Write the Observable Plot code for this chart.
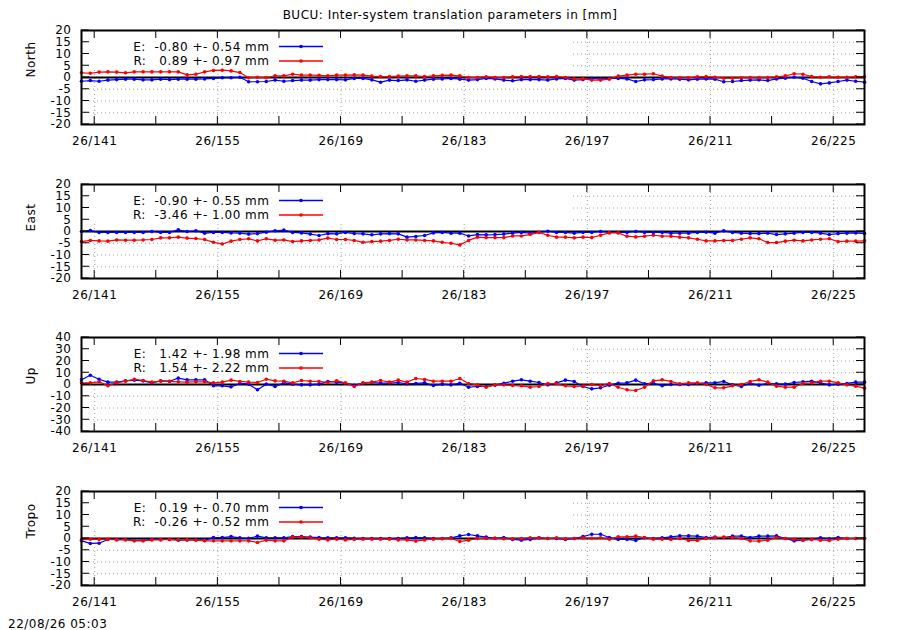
<!DOCTYPE html>
<html><head><meta charset="utf-8">
<script src="https://cdn.jsdelivr.net/npm/d3@7"></script>
<script src="https://cdn.jsdelivr.net/npm/@observablehq/plot@0.6"></script>
<style>
html,body{margin:0;padding:0;background:#fff;overflow:hidden}
#wrap{position:relative;width:900px;height:630px;font-family:"DejaVu Sans";font-size:12px;letter-spacing:0.5px;color:#000}
.abs{position:absolute;line-height:12px;white-space:pre}
</style></head>
<body><div id="wrap"></div>
<script>
const titleText = "BUCU: Inter-system translation parameters in [mm]";
const stampText = "22/08/26 05:03";
const panelNames = ["North", "East", "Up", "Tropo"];
const meanE = [-0.80, -0.90, 1.42, 0.19];
const sigE  = [0.54, 0.55, 1.98, 0.70];
const meanR = [0.89, -3.46, 1.54, -0.26];
const sigR  = [0.97, 1.00, 2.22, 0.52];

const xTicks = [141,148,155,162,169,176,183,190,197,204,211,218,225];
const xLabelTicks = [141,155,169,183,197,211,225];
const xLabels = ["26/141","26/155","26/169","26/183","26/197","26/211","26/225"];
const yTicks20 = [20,15,10,5,0,-5,-10,-15,-20];
const yTicks40 = [40,30,20,10,0,-10,-20,-30,-40];

const days = [139.5,140.5,141.5,142.5,143.5,144.5,145.5,146.5,147.5,148.5,
149.5,150.5,151.5,152.5,153.5,154.5,155.5,156.5,157.5,158.5,
159.5,160.5,161.5,162.5,163.5,164.5,165.5,166.5,167.5,168.5,
169.5,170.5,171.5,172.5,173.5,174.5,175.5,176.5,177.5,178.5,
179.5,180.5,181.5,182.5,183.5,184.5,185.5,186.5,187.5,188.5,
189.5,190.5,191.5,192.5,193.5,194.5,195.5,196.5,197.5,198.5,
199.5,200.5,201.5,202.5,203.5,204.5,205.5,206.5,207.5,208.5,
209.5,210.5,211.5,212.5,213.5,214.5,215.5,216.5,217.5,218.5,
219.5,220.5,221.5,222.5,223.5,224.5,225.5,226.5,227.5,228.5];

const northE = [-1.6,-1.3,-1.6,-1.1,-0.9,-0.7,-0.7,-1.0,-1.0,-0.7,
-0.9,-0.7,-0.7,-0.7,-0.6,-0.4,-0.1,-0.1,0.1,-1.8,
-1.8,-1.7,-1.1,-1.6,-1.3,-1.1,-1.1,-0.9,-0.9,-0.9,
-1.0,-0.4,-0.4,-1.0,-2.0,-1.1,-1.3,-1.0,-1.6,-1.1,
-0.7,-0.6,-0.4,
-0.7,-1.1,-0.9,-0.4,-0.6,-1.1,-1.4,-0.9,-0.9,-0.9,
-1.1,-0.6,-0.4,-1.1,-0.9,-0.4,-0.7,-0.4,-0.4,-0.6,
-1.7,-1.0,-0.9,-0.6,-0.6,-0.7,-1.0,-0.7,-0.6,-0.7,
-1.8,-1.7,-1.3,-1.1,-1.0,-1.3,-0.6,-0.3,0.1,-0.3,
-1.7,-2.7,-2.3,-1.7,-1.1,-1.6,-2.0];
const northR = [2.0,1.8,2.3,2.4,2.3,2.0,2.4,2.4,2.4,2.4,
2.4,2.4,1.1,1.4,2.4,3.0,3.1,2.8,2.1,-0.1,
0.1,-0.1,0.7,0.7,1.4,1.0,1.0,0.9,0.7,1.0,
1.0,1.1,1.0,0.6,0.4,0.4,0.6,0.7,0.7,0.4,
0.7,0.9,1.0,
0.7,0,0,0.3,0,0,0.3,0.4,0.4,0.4,
0.3,0.4,0,-0.6,-0.6,-1.1,-1.1,-0.7,0.6,1.0,
1.4,1.4,1.6,0.6,0,-0.1,-0.1,0.3,0.4,0.1,
-0.3,-0.3,-0.1,0,-0.1,0,0.3,0.7,1.6,1.4,
0.4,0.1,0.3,0.1,0.1,0.3,0.3];
const eastE = [0,0.4,-0.4,-0.4,-0.4,-0.4,-0.4,-0.4,0,-0.4,
-0.4,0.7,0,0.3,-0.7,-0.4,-0.4,-0.6,-0.7,-1.1,
-0.9,-0.3,0.3,0.6,-0.4,-0.6,-1.1,-1.7,-0.9,-1.0,
-0.4,-0.9,-1.0,-1.4,-1.0,-0.9,-1.0,-2.4,-2.1,-1.7,
-0.6,-0.4,-0.7,
-0.7,-1.9,-1.3,-1.4,-1.3,-1.1,-0.7,-0.4,-0.7,
-0.4,0.1,-0.4,-0.4,-0.7,-0.4,-0.4,0,-0.4,-0.4,
-0.4,0,-0.4,-0.4,-0.4,-0.7,-0.7,-0.7,-0.4,-0.3,
-0.7,0.3,-0.4,-0.7,-0.9,-0.9,-0.7,-1.3,-1.0,-0.7,
-0.4,-0.4,-0.7,-1.3,-0.9,-0.7,-0.6,-0.9];
const eastR = [-4.3,-3.8,-4.0,-4.1,-3.6,-3.7,-3.7,-3.6,-3.4,-2.7,
-2.7,-2.4,-2.8,-3.0,-3.4,-4.6,-5.3,-4.1,-3.4,-3.1,
-4.0,-3.1,-3.7,-3.6,-4.3,-4.0,-3.8,-3.6,-2.8,-3.4,
-3.4,-3.8,-4.6,-4.3,-4.1,-3.8,-3.3,-3.6,-3.6,-3.8,
-4.0,-4.6,-5.0,
-5.7,-3.8,-2.4,-2.6,-2.6,-2.6,-1.9,-1.9,-1.3,
-0.4,-1.6,-2.4,-2.4,-2.7,-2.4,-2.6,-1.6,-0.6,-0.6,
-2.0,-2.3,-2.0,-1.6,-2.0,-2.0,-2.4,-2.7,-3.3,-4.0,
-4.0,-3.8,-3.8,-3.3,-2.7,-3.1,-4.7,-4.7,-4.1,-3.7,
-4.0,-3.6,-3.3,-3.1,-4.3,-4.1,-4.1,-4.0];
const upE = [4.0,7.9,4.5,2.0,2.0,3.1,3.7,3.1,1.4,3.1,
2.8,5.4,4.0,4.0,4.0,-1.1,-1.1,-2.0,0.9,0.3,
-4.5,0.3,-1.7,1.4,0.3,-0.3,-0.3,0.3,2.6,2.0,
1.1,-0.6,1.1,1.7,1.1,1.1,1.7,0.6,0.9,1.4,
-0.9,0.3,-0.3,
1.1,-2.3,-1.7,-1.7,-0.6,1.1,2.8,4.0,2.8,
1.7,-0.3,1.4,3.7,2.6,-1.7,-3.7,-2.8,-0.6,1.1,
1.4,3.7,0.6,1.1,-1.1,0,0,0,0.9,1.4,
1.4,2.6,-0.3,-1.7,0.9,-0.6,0.9,0.6,0.3,1.7,
2.3,2.8,1.4,-0.3,0.3,0.9,2.0,2.0];
const upR = [1.4,1.4,2.3,-1.1,1.4,2.8,4.5,3.4,2.0,2.8,
2.6,2.3,2.0,2.3,2.3,1.4,2.0,3.7,2.6,2.0,
1.7,4.5,3.1,2.8,1.4,3.4,2.8,2.6,1.7,3.1,
1.4,-1.7,1.4,2.0,3.4,2.0,3.7,2.0,5.1,4.3,
2.8,2.8,2.8,
5.1,0.9,-0.3,-2.3,-0.3,-0.3,-0.9,-1.1,-2.3,
-1.7,0.9,0.6,-1.1,-1.7,-1.4,0,-1.1,0.9,-2.3,
-4.5,-5.1,-2.3,3.1,4.0,2.6,0.6,1.4,1.4,0,
-2.8,-2.8,-1.1,0,2.6,4.0,2.0,-1.4,-2.3,-2.3,
0.9,1.4,2.8,2.8,1.4,-0.3,-1.4,-3.1];
const tropoE = [-1.0,-2.1,-2.0,-0.4,-0.4,-0.4,-0.8,-0.8,-0.4,-0.4,
-0.4,-0.7,-0.6,-0.6,-0.7,0.4,0.4,0.8,0.3,0.1,
1.0,0.3,0.3,0.3,0.8,0.8,0.6,0.4,0.3,0.3,
0.3,0.1,0,0,0,0,0,0.3,0.4,0.3,
0,0,0.3,
1.1,1.7,1.1,0.6,0.1,0.4,-0.4,-0.7,-0.4,
0.3,0,0,-0.4,0,0.8,1.8,1.8,0.4,-0.4,
-0.4,-0.8,0.3,0,0.3,0.7,1.1,1.1,1.0,0.4,
0.6,0.4,1.0,1.0,0.4,1.0,1.0,1.1,0,-1.0,
-0.7,-0.4,0.3,-0.1,0.4,0,0,0];
const tropoR = [-0.6,-0.3,-0.4,-0.3,-0.6,-0.6,-1.0,-1.0,-0.6,-0.6,
-0.4,-0.6,-0.6,-0.7,-1.0,-1.0,-1.0,-1.0,-1.0,-1.0,
-1.7,-0.7,-1.0,-1.0,0.6,0.6,0.3,-0.3,-0.6,-0.3,
-0.6,-0.4,-0.3,-0.3,-0.3,-0.3,-0.6,-0.6,-1.1,-0.6,
-0.3,-0.1,0,
-1.3,-0.7,0,0,0.1,-0.1,-0.1,0,0.3,
0.3,0,0.3,-0.1,0,0.3,0.1,0.3,-0.3,0.7,
0.7,1.0,0.4,-0.3,-0.3,-0.4,0,-0.8,-0.8,0,
0.3,0.6,0.4,0,-1.0,-1.1,-0.7,0.4,0,-0.3,
-0.7,-0.4,-0.7,-0.8,-0.3,0,0,0];

const seriesE = [northE, eastE, upE, tropoE];
const seriesR = [northR, eastR, upR, tropoR];
const yTickSets = [yTicks20, yTicks20, yTicks40, yTicks20];
const frameTops = [29.5, 183.5, 337, 491];
const BLUE = "#0000ff", RED = "#ff0000";

const wrap = document.getElementById("wrap");
function addText(txt, css) {
  const d = document.createElement("div");
  d.className = "abs";
  Object.assign(d.style, css);
  d.textContent = txt;
  wrap.appendChild(d);
}
addText(titleText, {left: "0px", top: "9px", width: "900px", textAlign: "center"});

const fmtMean = m => (m < 0 ? "" : " ") + m.toFixed(2);
const keyLabel = (n, m, s) => `${n}:  ${fmtMean(m)} +- ${s.toFixed(2)} mm`;

const inwardTicks = (xt, yt, len) => (index, scales, values, dims) => {
  const {x, y} = scales;
  const L = dims.marginLeft, R = dims.width - dims.marginRight;
  const T = dims.marginTop, B = dims.height - dims.marginBottom;
  const g = d3.create("svg:g").attr("stroke", "black").attr("stroke-width", 1);
  for (const t of xt) {
    const px = x(t);
    g.append("line").attr("x1", px).attr("x2", px).attr("y1", B).attr("y2", B - len);
    g.append("line").attr("x1", px).attr("x2", px).attr("y1", T).attr("y2", T + len);
  }
  for (const t of yt) {
    const py = y(t);
    g.append("line").attr("x1", L).attr("x2", L + len).attr("y1", py).attr("y2", py);
    g.append("line").attr("x1", R).attr("x2", R - len).attr("y1", py).attr("y2", py);
  }
  return g.node();
};

const keyBox = (index, scales, values, dims) =>
  d3.create("svg:rect").attr("x", dims.marginLeft + 1).attr("y", dims.marginTop + 1)
    .attr("width", 573 - dims.marginLeft - 1).attr("height", 39).attr("fill", "white").node();

const keyText = rows => (index, scales, values, dims) => {
  const g = d3.create("svg:g");
  rows.forEach((r, i) => {
    const cy = dims.marginTop + 16.5 + i * 14.5;
    g.append("text").attr("x", 269.5).attr("y", cy).attr("dy", "0.35em")
      .attr("text-anchor", "end").style("white-space", "pre").attr("fill", "black").text(r.label);
    g.append("line").attr("x1", 279).attr("x2", 323).attr("y1", cy).attr("y2", cy)
      .attr("stroke", r.color).attr("stroke-width", 1.3);
    g.append("circle").attr("cx", 301).attr("cy", cy).attr("r", 1.8).attr("fill", r.color);
  });
  return g.node();
};

panelNames.forEach((name, i) => {
  const yt = yTickSets[i];
  const ymax = d3.max(yt), ymin = d3.min(yt);
  const gridRows = yt.filter(v => v !== 0 && v !== ymax && v !== ymin);
  const tE = days.map((d, k) => ({day: d, v: seriesE[i][k]}));
  const tR = days.map((d, k) => ({day: d, v: seriesR[i][k]}));
  const rows = [
    {label: keyLabel("E", meanE[i], sigE[i]), color: BLUE},
    {label: keyLabel("R", meanR[i], sigR[i]), color: RED}
  ];
  const svg = Plot.plot({
    width: 900, height: 140,
    marginLeft: 81, marginRight: 36, marginTop: 10, marginBottom: 36,
    x: {domain: [days[0], days[days.length - 1]], axis: null},
    y: {domain: [ymin, ymax], axis: null},
    style: {fontFamily: "DejaVu Sans", fontSize: "12px", letterSpacing: "0.5px", background: "none", overflow: "visible", color: "black"},
    marks: [
      Plot.gridY(gridRows, {stroke: "#a0a0a0", strokeOpacity: 1, strokeWidth: 1, strokeDasharray: "1,3"}),
      Plot.gridX(xLabelTicks, {stroke: "#a0a0a0", strokeOpacity: 1, strokeWidth: 1, strokeDasharray: "1,3"}),
      keyBox,
      Plot.ruleY([0], {stroke: "black", strokeWidth: 1.8}),
      Plot.line(tE, {x: "day", y: "v", stroke: BLUE, strokeWidth: 1.2}),
      Plot.dot(tE, {x: "day", y: "v", r: 1.8, fill: BLUE}),
      Plot.line(tR, {x: "day", y: "v", stroke: RED, strokeWidth: 1.2}),
      Plot.dot(tR, {x: "day", y: "v", r: 1.8, fill: RED}),
      inwardTicks(xTicks, yt, 8),
      Plot.frame({stroke: "black", strokeWidth: 2}),
      Plot.text(yt, {y: d => d, text: d => String(d), frameAnchor: "left", textAnchor: "end", dx: -10, fill: "black"}),
      Plot.text(xLabelTicks, {x: d => d, text: (d, k) => xLabels[k], frameAnchor: "bottom", lineAnchor: "bottom", dy: 20.3, fill: "black"}),
      Plot.text([name], {frameAnchor: "left", rotate: -90, dx: -50, fill: "black"}),
      keyText(rows)
    ]
  });
  svg.style.position = "absolute";
  svg.style.left = "0px";
  svg.style.top = (frameTops[i] - 10) + "px";
  wrap.appendChild(svg);
});

addText(stampText, {left: "8px", top: "618px"});
</script>
</body></html>
